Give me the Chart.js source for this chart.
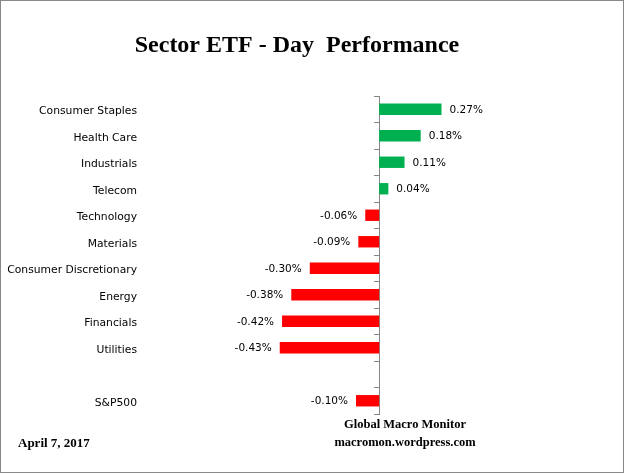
<!DOCTYPE html>
<html lang="en">
<head>
    <meta charset="UTF-8">
    <title>Sector ETF - Day Performance</title>
    <script src="https://cdn.jsdelivr.net/npm/chart.js"></script>
    <style>
        html, body { margin: 0; padding: 0; background: #fff; }
        #wrap { width: 625px; height: 473px; }
    </style>
</head>
<body>
    <div id="wrap">
        <canvas id="myChart" width="625" height="473"></canvas>
    </div>

    <script>
        // Chart data
        const sectors = ['Consumer Staples', 'Health Care', 'Industrials', 'Telecom', 'Technology',
            'Materials', 'Consumer Discretionary', 'Energy', 'Financials', 'Utilities', '', 'S&P500'];
        const dayChange = [0.27, 0.18, 0.11, 0.04, -0.06, -0.09, -0.30, -0.38, -0.42, -0.43, null, -0.10];
        const chartTitle = 'Sector ETF - Day  Performance';
        const dateText = 'April 7, 2017';
        const sourceLines = ['Global Macro Monitor', 'macromon.wordpress.com'];

        const GREEN = '#00B050';
        const RED = '#FF0000';
        const AXIS_GRAY = '#868686';
        const labelFont = '10.5px "DejaVu Sans"';

        // Value labels at the end of each bar
        const valueLabels = {
            id: 'valueLabels',
            afterDatasetsDraw(chart) {
                const ctx = chart.ctx;
                const meta = chart.getDatasetMeta(0);
                ctx.save();
                ctx.font = labelFont;
                ctx.fillStyle = '#000';
                ctx.textBaseline = 'middle';
                meta.data.forEach((bar, i) => {
                    const v = dayChange[i];
                    if (v === null) return;
                    const txt = v.toFixed(2) + '%';
                    if (v >= 0) {
                        ctx.textAlign = 'left';
                        ctx.fillText(txt, bar.x + 8, bar.y + 1);
                    } else {
                        ctx.textAlign = 'right';
                        ctx.fillText(txt, bar.x - 8, bar.y + 1);
                    }
                });
                ctx.restore();
            }
        };

        // Title, footer texts and outer border
        const decorations = {
            id: 'decorations',
            beforeDraw(chart) {
                const ctx = chart.ctx;
                ctx.save();
                ctx.fillStyle = '#fff';
                ctx.fillRect(0, 0, chart.width, chart.height);
                ctx.restore();
            },
            afterDraw(chart) {
                const ctx = chart.ctx;
                ctx.save();
                ctx.fillStyle = '#000';
                ctx.textBaseline = 'alphabetic';

                ctx.font = 'bold 24px "Liberation Serif"';
                ctx.textAlign = 'center';
                ctx.fillText(chartTitle, 297, 52);

                ctx.font = 'bold 13px "Liberation Serif"';
                ctx.textAlign = 'left';
                ctx.fillText(dateText, 18, 447);

                ctx.font = 'bold 12.5px "Liberation Serif"';
                ctx.textAlign = 'center';
                ctx.fillText(sourceLines[0], 405, 428);
                ctx.fillText(sourceLines[1], 405, 446);

                ctx.strokeStyle = '#888';
                ctx.lineWidth = 1;
                ctx.strokeRect(0.5, 0.5, chart.width - 2, chart.height - 1);
                ctx.restore();
            }
        };

        const ctx = document.getElementById('myChart').getContext('2d');
        window.myChart = new Chart(ctx, {
            type: 'bar',
            data: {
                labels: sectors,
                datasets: [{
                    data: dayChange,
                    backgroundColor: dayChange.map(v => v !== null && v >= 0 ? GREEN : RED),
                    borderWidth: 0,
                    barPercentage: 0.43,
                    categoryPercentage: 1.0
                }]
            },
            options: {
                indexAxis: 'y',
                responsive: false,
                animation: false,
                layout: {
                    padding: { left: 0, right: 61, top: 96, bottom: 59 }
                },
                plugins: {
                    legend: { display: false },
                    title: { display: false },
                    tooltip: { enabled: false }
                },
                scales: {
                    x: {
                        display: false,
                        min: -1.0,
                        max: 0.8
                    },
                    y: {
                        position: 'left',
                        grid: { display: false, drawTicks: false },
                        border: { display: false },
                        ticks: {
                            autoSkip: false,
                            padding: 11,
                            labelOffset: 2,
                            color: '#000',
                            font: { family: 'DejaVu Sans', size: 10.75 }
                        },
                        afterFit(scale) { scale.width = 148; }
                    },
                    y2: {
                        type: 'category',
                        axis: 'y',
                        position: { x: 0 },
                        offset: true,
                        grid: {
                            offset: true,
                            drawOnChartArea: false,
                            drawTicks: true,
                            tickLength: 5,
                            color: AXIS_GRAY
                        },
                        border: { display: true, color: AXIS_GRAY },
                        ticks: { display: false }
                    }
                }
            },
            plugins: [valueLabels, decorations]
        });
    </script>
</body>
</html>
